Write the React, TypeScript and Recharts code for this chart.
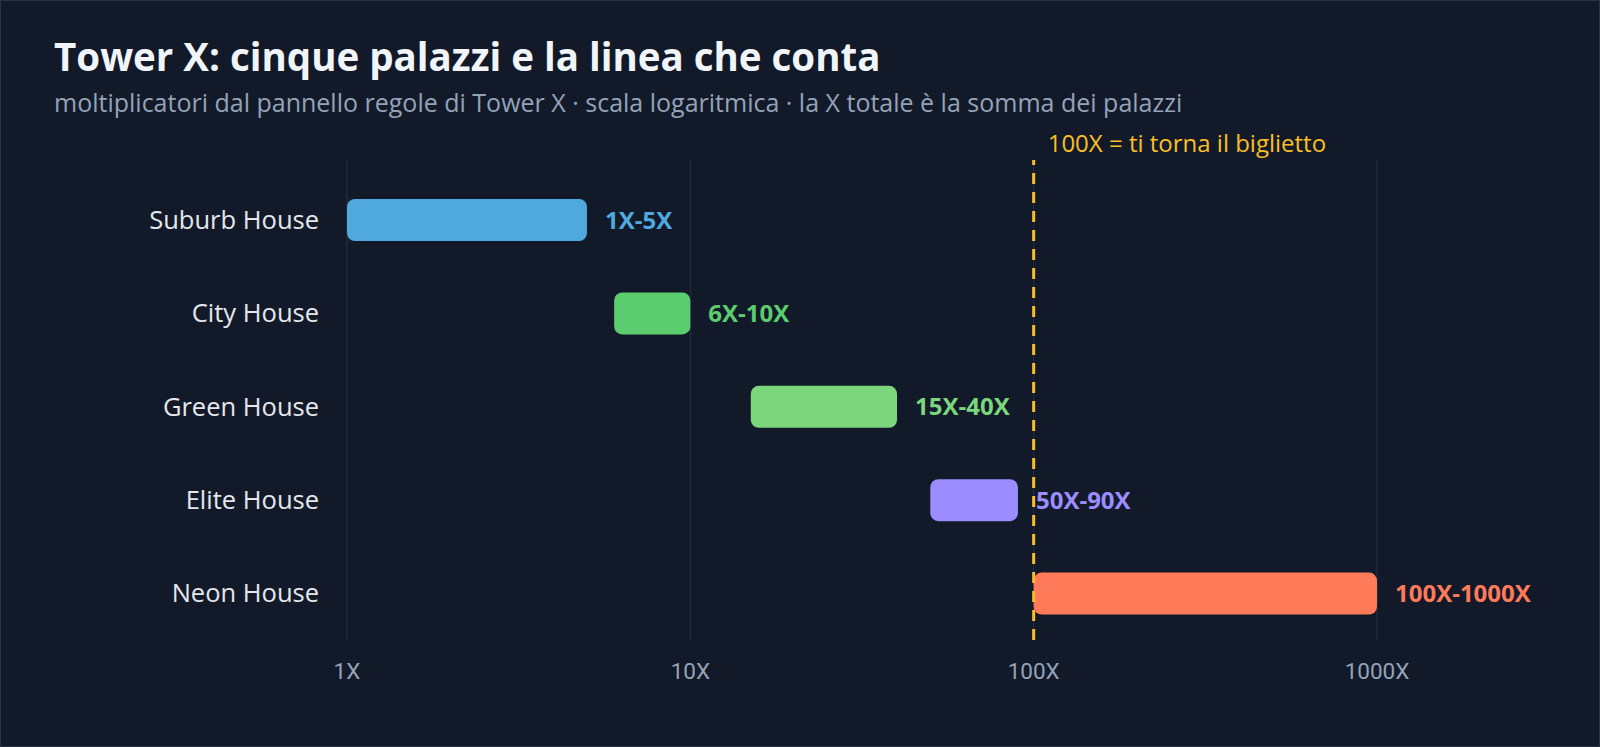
import {
  Bar,
  BarChart,
  CartesianGrid,
  Cell,
  LabelList,
  ReferenceLine,
  XAxis,
  YAxis,
} from "recharts";

const houses = ["Suburb House", "City House", "Green House", "Elite House", "Neon House"];
const minMultiplier = [1, 6, 15, 50, 100];
const maxMultiplier = [5, 10, 40, 90, 1000];
const houseColors = ["#4fa9df", "#5ccd6e", "#7bd67c", "#9b8cff", "#ff7a59"];
const xTicks = [1, 10, 100, 1000];
const breakEven = 100;
const breakEvenLabel = "100X = ti torna il biglietto";

const title = "Tower X: cinque palazzi e la linea che conta";
const subtitle =
  "moltiplicatori dal pannello regole di Tower X · scala logaritmica · la X totale è la somma dei palazzi";

const FONT = "'Open Sans', 'Noto Sans', sans-serif";
const BG = "#121a2a";

const data = houses.map((name, i) => ({
  name,
  range: [minMultiplier[i], maxMultiplier[i]],
}));

function RangeLabel(props: any) {
  const { x, y, width, height, index } = props;
  return (
    <text
      x={Number(x) + Number(width) + 18}
      y={Number(y) + Number(height) / 2}
      dy="0.36em"
      fill={houseColors[index]}
      fontSize={24}
      fontWeight={700}
      fontFamily={FONT}
    >
      {`${minMultiplier[index]}X-${maxMultiplier[index]}X`}
    </text>
  );
}

function BreakEvenLabel(props: any) {
  const vb = props.viewBox || {};
  return (
    <text x={vb.x + 14} y={vb.y - 8} fill="#fbbf24" fontSize={24} fontFamily={FONT}>
      {breakEvenLabel}
    </text>
  );
}

export default function App() {
  return (
    <div
      style={{
        position: "absolute",
        left: 0,
        top: 0,
        width: 1600,
        height: 747,
        background: BG,
        boxSizing: "border-box",
        border: "1px solid #283244",
        overflow: "hidden",
      }}
    >
      <svg width={1600} height={140} style={{ position: "absolute", left: -1, top: -1 }}>
        <text x={54} y={71} fill="#f1f5f9" fontSize={38.5} fontWeight={700} fontFamily={FONT}>
          {title}
        </text>
        <text x={54} y={112} fill="#94a3b8" fontSize={25} fontFamily={FONT}>
          {subtitle}
        </text>
      </svg>
      <div style={{ position: "absolute", left: -1, top: -1 }}>
        <BarChart
          width={1600}
          height={747}
          data={data}
          layout="vertical"
          margin={{ top: 160, right: 223, bottom: 47, left: 20 }}
        >
          <CartesianGrid horizontal={false} stroke="#263044" strokeWidth={1} />
          <XAxis
            type="number"
            scale="log"
            domain={[1, 1000]}
            ticks={xTicks}
            allowDataOverflow
            tickFormatter={(v: number) => `${v}X`}
            tick={{ fontSize: 22.5, fill: "#94a3b8", fontFamily: "Roboto, sans-serif" }}
            tickLine={false}
            axisLine={false}
            tickMargin={17}
            height={60}
          />
          <YAxis
            type="category"
            dataKey="name"
            width={327}
            padding={{ top: 13, bottom: 0 }}
            tick={{ fontSize: 25.5, fill: "#e5e7eb", fontFamily: FONT }}
            tickLine={false}
            axisLine={false}
            tickMargin={22}
          />
          <Bar dataKey="range" barSize={42} radius={8} isAnimationActive={false}>
            {data.map((d, i) => (
              <Cell key={d.name} fill={houseColors[i]} />
            ))}
            <LabelList dataKey="range" content={<RangeLabel />} />
          </Bar>
          <ReferenceLine
            x={breakEven}
            stroke="#fbbf24"
            strokeWidth={3}
            strokeDasharray="11 8"
            label={<BreakEvenLabel />}
          />
        </BarChart>
      </div>
    </div>
  );
}
